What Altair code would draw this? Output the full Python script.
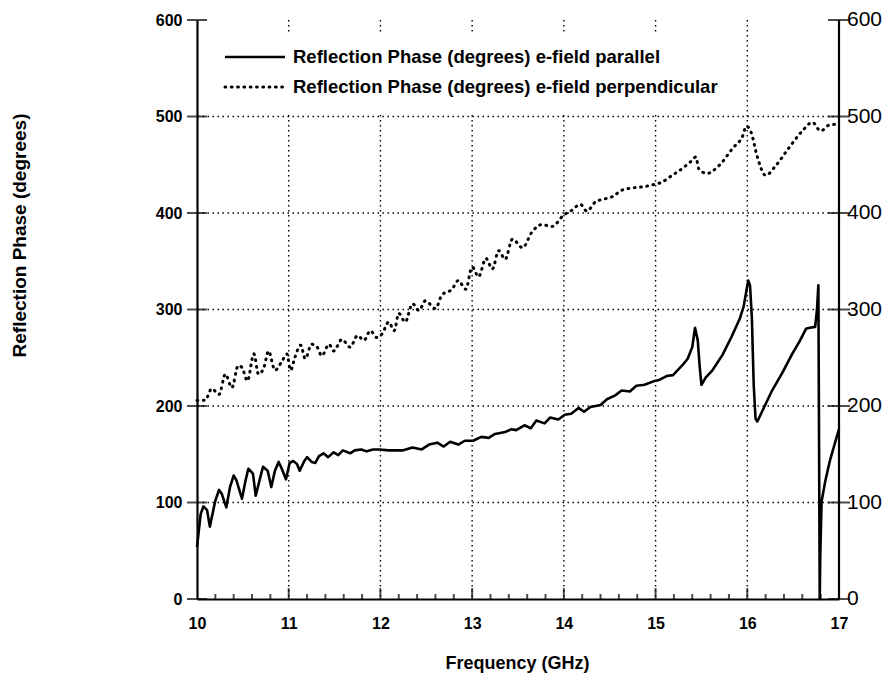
import altair as alt
import pandas as pd

# ---- data ----
par_f = [10.00, 10.04, 10.07, 10.11, 10.14, 10.20, 10.24, 10.27, 10.32, 10.36,
         10.40, 10.43, 10.49, 10.53, 10.56, 10.61, 10.64, 10.69, 10.72, 10.77,
         10.81, 10.85, 10.89, 10.92, 10.97, 11.01, 11.05, 11.09, 11.12, 11.17,
         11.20, 11.25, 11.29, 11.33, 11.38, 11.43, 11.49, 11.54, 11.59, 11.67,
         11.72, 11.79, 11.85, 11.92, 11.99, 12.09, 12.24, 12.35, 12.45, 12.53,
         12.62, 12.69, 12.76, 12.85, 12.92, 13.01, 13.10, 13.18, 13.25, 13.36,
         13.43, 13.48, 13.57, 13.64, 13.70, 13.79, 13.85, 13.94, 14.01, 14.08,
         14.16, 14.22, 14.29, 14.40, 14.47, 14.56, 14.63, 14.72, 14.79, 14.88,
         14.99, 15.04, 15.12, 15.19, 15.29, 15.35, 15.40, 15.43, 15.46, 15.48,
         15.50, 15.55, 15.62, 15.73, 15.83, 15.92, 15.96, 16.01, 16.03, 16.05,
         16.07, 16.09, 16.11, 16.16, 16.27, 16.38, 16.49, 16.57, 16.64, 16.68,
         16.74, 16.76, 16.775, 16.79, 16.795, 16.81, 16.85, 16.90, 16.96, 17.00]
par_v = [54, 88, 96, 92, 75, 102, 113, 109, 95, 116,
         128, 123, 104, 123, 135, 130, 107, 126, 137, 133,
         116, 133, 142, 136, 124, 141, 143, 140, 133, 143,
         147, 142, 141, 148, 151, 147, 152, 149, 154, 151,
         154, 155, 153, 155, 155, 154, 154, 157, 155, 160,
         162, 158, 163, 160, 164, 164, 168, 167, 171, 173,
         176, 175, 180, 177, 185, 182, 188, 186, 191, 192,
         198, 194, 199, 201, 207, 211, 216, 215, 221, 222,
         226, 227, 231, 232, 242, 249, 261, 281, 268, 242,
         222, 230, 237, 253, 272, 291, 303, 330, 325, 291,
         222, 187, 184, 194, 216, 234, 254, 267, 280, 281,
         282, 300, 325, 0, 42, 101, 122, 143, 163, 176]

perp_f = [10.00, 10.09, 10.16, 10.24, 10.31, 10.38, 10.45, 10.49, 10.55, 10.62,
          10.67, 10.73, 10.78, 10.85, 10.93, 10.98, 11.02, 11.07, 11.13, 11.18,
          11.25, 11.31, 11.36, 11.44, 11.49, 11.58, 11.67, 11.75, 11.82, 11.89,
          11.96, 12.02, 12.09, 12.15, 12.20, 12.27, 12.35, 12.42, 12.49, 12.60,
          12.67, 12.78, 12.85, 12.93, 13.00, 13.07, 13.15, 13.22, 13.29, 13.36,
          13.44, 13.55, 13.65, 13.76, 13.87, 14.00, 14.09, 14.18, 14.25, 14.35,
          14.42, 14.53, 14.64, 14.75, 14.85, 14.96, 15.07, 15.18, 15.29, 15.38,
          15.44, 15.47, 15.56, 15.69, 15.84, 15.95, 15.99, 16.04, 16.11, 16.20,
          16.31, 16.45, 16.60, 16.71, 16.80, 16.89, 16.96, 17.00]
perp_v = [206, 206, 218, 212, 233, 219, 242, 240, 226, 254,
          233, 240, 257, 237, 247, 254, 237, 251, 263, 249,
          264, 261, 252, 264, 257, 269, 261, 273, 268, 278,
          271, 275, 287, 278, 296, 287, 306, 299, 309, 301,
          315, 321, 330, 321, 344, 334, 353, 342, 361, 352,
          373, 364, 380, 388, 386, 398, 403, 409, 402, 412,
          414, 417, 424, 426, 427, 429, 432, 439, 446, 453,
          458, 446, 441, 449, 467, 480, 490, 484, 458, 439,
          449, 467, 485, 494, 485, 491, 492, 493]

x_ticks = [10, 11, 12, 13, 14, 15, 16, 17]
x_grid = [11, 12, 13, 14, 15, 16]
y_ticks = [0, 100, 200, 300, 400, 500, 600]
y_grid = [100, 200, 300, 400, 500]
x_major_inner = [11, 12, 13, 14, 15, 16]
x_minor_inner = [10.2, 10.4, 10.6, 10.8, 11.2, 11.4, 11.6, 11.8, 12.2, 12.4, 12.6, 12.8,
                 13.2, 13.4, 13.6, 13.8, 14.2, 14.4, 14.6, 14.8, 15.2, 15.4, 15.6, 15.8,
                 16.2, 16.4, 16.6, 16.8]
x_left, x_right = 10, 17
label_par = "Reflection Phase (degrees) e-field parallel"
label_perp = "Reflection Phase (degrees) e-field perpendicular"
x_title = "Frequency (GHz)"
y_title = "Reflection Phase (degrees)"

FONT = "Liberation Sans"
W, H = 642, 579

xs = alt.Scale(domain=[10, 17], nice=False, zero=False)
ys = alt.Scale(domain=[0, 600], nice=False, zero=True)

x_axis = alt.Axis(
    values=x_ticks, format="d", ticks=False, tickSize=0, grid=False,
    labelFlush=False, labelOverlap=False,
    domainColor="black", domainWidth=2.2, labelFont=FONT, labelFontSize=16,
    labelFontWeight="bold", labelColor="black", labelPadding=16,
    title=x_title, titleFont=FONT, titleFontSize=18, titleFontWeight="bold",
    titleColor="black", titleX=320, titleY=64, titleBaseline="middle",
    titleAlign="center")
y_axis = alt.Axis(
    values=y_ticks, format="d", ticks=False, tickSize=0, grid=False,
    labelFlush=False, labelOverlap=False,
    domainColor="black", domainWidth=2.2, labelFont=FONT, labelFontSize=16,
    labelFontWeight="bold", labelColor="black", labelPadding=15,
    title=y_title, titleFont=FONT, titleFontSize=19, titleFontWeight="bold",
    titleColor="black", titleX=-178, titleY=215, titleAngle=270,
    titleAlign="center", titleBaseline="middle")


def X(field):
    return alt.X(field, scale=xs, axis=x_axis)


def Y(field):
    return alt.Y(field, scale=ys, axis=y_axis)


par_df = pd.DataFrame({"f": par_f, "v": par_v})
perp_df = pd.DataFrame({"f": perp_f, "v": perp_v})

grid_style = dict(color="black", strokeWidth=1.4, strokeDash=[1.5, 3.5])

gx = alt.Chart(pd.DataFrame({"f": x_grid})).mark_rule(**grid_style).encode(x=X("f:Q"))
gy = alt.Chart(pd.DataFrame({"v": y_grid})).mark_rule(**grid_style).encode(y=Y("v:Q"))

legend_box = alt.Chart(pd.DataFrame({"a": [0]})).mark_rect(color="white").encode(
    x=alt.value(3), x2=alt.value(540), y=alt.value(13), y2=alt.value(94))

perp = alt.Chart(perp_df).mark_line(
    color="black", strokeWidth=3, strokeDash=[0.8, 5.5], strokeCap="round",
    interpolate="monotone").encode(x=X("f:Q"), y=Y("v:Q"))

par = alt.Chart(par_df).mark_line(
    color="black", strokeWidth=2.6, strokeJoin="round").encode(x=X("f:Q"), y=Y("v:Q"))

# right-hand axis drawn from marks: domain line, crossing ticks, labels
right_df = pd.DataFrame({"v": y_ticks, "f": [x_right] * len(y_ticks),
                         "lab": [str(t) for t in y_ticks]})
right_domain = alt.Chart(pd.DataFrame({"f": [x_right]})).mark_rule(
    color="black", strokeWidth=2.2).encode(x=X("f:Q"))
right_ticks = alt.Chart(right_df).mark_tick(
    color="black", orient="horizontal", size=22, thickness=2).encode(x=X("f:Q"), y=Y("v:Q"))
right_labels = alt.Chart(right_df).mark_text(
    align="left", baseline="middle", dx=8, font=FONT, fontSize=21, color="black").encode(
    x=X("f:Q"), y=Y("v:Q"), text="lab:N")

left_df = pd.DataFrame({"v": y_ticks, "f": [x_left] * len(y_ticks)})
left_ticks = alt.Chart(left_df).mark_tick(
    color="black", orient="horizontal", size=20, thickness=2).encode(x=X("f:Q"), y=Y("v:Q"))

# inner (upward) ticks on the bottom axis, drawn as short vertical ticks
major_len, minor_len = 11, 5
inner_df = pd.DataFrame({
    "f": x_major_inner + x_minor_inner,
    "v": [major_len / 2 * 600 / H] * len(x_major_inner)
         + [minor_len / 2 * 600 / H] * len(x_minor_inner),
    "kind": ["major"] * len(x_major_inner) + ["minor"] * len(x_minor_inner),
})
bottom_major = alt.Chart(inner_df).transform_filter(
    alt.datum.kind == "major").mark_tick(
    color="black", orient="vertical", size=major_len, thickness=2).encode(
    x=X("f:Q"), y=Y("v:Q"))
bottom_minor = alt.Chart(inner_df).transform_filter(
    alt.datum.kind == "minor").mark_tick(
    color="black", orient="vertical", size=minor_len, thickness=2).encode(
    x=X("f:Q"), y=Y("v:Q"))

leg1_line = alt.Chart(pd.DataFrame({"l": [label_par]})).mark_rule(
    color="black", strokeWidth=2.6).encode(
    x=alt.value(28), x2=alt.value(88), y=alt.value(37))
leg2_line = alt.Chart(pd.DataFrame({"l": [label_perp]})).mark_rule(
    color="black", strokeWidth=3, strokeDash=[0.8, 5.5], strokeCap="round").encode(
    x=alt.value(28), x2=alt.value(88), y=alt.value(67))
leg1_text = alt.Chart(pd.DataFrame({"l": [label_par]})).mark_text(
    align="left", baseline="middle", font=FONT, fontSize=18.5, fontWeight="bold",
    color="black").encode(x=alt.value(96), y=alt.value(37), text="l:N")
leg2_text = alt.Chart(pd.DataFrame({"l": [label_perp]})).mark_text(
    align="left", baseline="middle", font=FONT, fontSize=18.5, fontWeight="bold",
    color="black").encode(x=alt.value(96), y=alt.value(67), text="l:N")

chart = alt.layer(
    gx, gy, legend_box, perp, par, left_ticks,
    right_domain, right_ticks, right_labels,
    leg1_line, leg2_line, leg1_text, leg2_text, bottom_major, bottom_minor
).properties(
    width=W, height=H,
    autosize=alt.AutoSizeParams(type="none"),
    padding={"left": 197, "top": 20, "right": 57, "bottom": 78},
    background="white",
).configure_view(stroke=None)

chart.save("out.html", embed_options={"renderer": "svg", "actions": False})
